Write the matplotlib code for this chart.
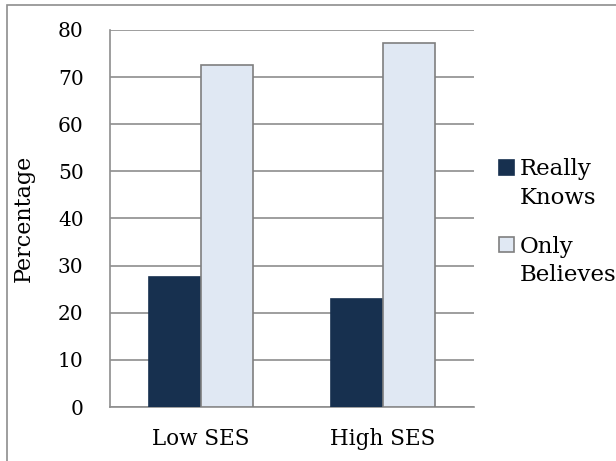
import matplotlib.pyplot as plt
from matplotlib.patches import Rectangle
import numpy as np

categories = ['Low SES', 'High SES']
series = ['Really\nKnows', 'Only\nBelieves']
really_knows = [27.6, 23.0]
only_believes = [72.6, 77.2]
colors = ['#17304F', '#E0E8F3']
edges = ['#17304F', '#7F7F7F']

plt.rcParams['font.family'] = ['DejaVu Serif']
plt.rcParams['font.size'] = 15.5

fig = plt.figure(figsize=(6.16, 4.61), dpi=100)
ax = fig.add_axes([110 / 616, 1 - 407 / 461, 364 / 616, 377 / 461])

x = np.arange(len(categories))
w = 0.286
values = [really_knows, only_believes]
for i, vals in enumerate(values):
    ax.bar(x + (i - 0.5) * w, vals, width=w, color=colors[i],
           edgecolor=edges[i], linewidth=1.2, zorder=3)

ax.set_xlim(-0.5, 1.5)
ax.set_ylim(0, 80)
ax.set_yticks(np.arange(0, 81, 10))
ax.set_xticks(x)
ax.set_xticklabels(categories)
ax.yaxis.grid(True, color='#8E8E8E', linewidth=1.2, zorder=0)
ax.set_axisbelow(True)
for s in ['top', 'right']:
    ax.spines[s].set_visible(False)
for s in ['left', 'bottom']:
    ax.spines[s].set_color('#8E8E8E')
    ax.spines[s].set_linewidth(1.2)
ax.tick_params(axis='both', length=0)
ax.tick_params(axis='y', pad=19, labelsize=14.5)
ax.tick_params(axis='x', pad=15)
ax.set_ylabel('Percentage', fontsize=16)
ax.yaxis.set_label_coords(-0.206, 0.5)

# legend drawn by hand so the square sits on the first line
marker_y = [167.5, 244.5]
for i, lab in enumerate(series):
    yy = 1 - marker_y[i] / 461
    fig.patches.append(Rectangle((499 / 616, yy - 7.5 / 461), 15 / 616, 15 / 461,
                                 transform=fig.transFigure, facecolor=colors[i],
                                 edgecolor=edges[i], linewidth=1.2))
    fig.text(520 / 616, yy + 9 / 461, lab, ha='left', va='top',
             fontsize=16.5, linespacing=1.38)

# outer chart border
fig.patches.append(Rectangle((7 / 616, -0.1), 1.2, 1 - 5 / 461 + 0.1,
                             transform=fig.transFigure, fill=False,
                             edgecolor='#8E8E8E', linewidth=1.2))

fig.savefig('out.png', dpi=100)
